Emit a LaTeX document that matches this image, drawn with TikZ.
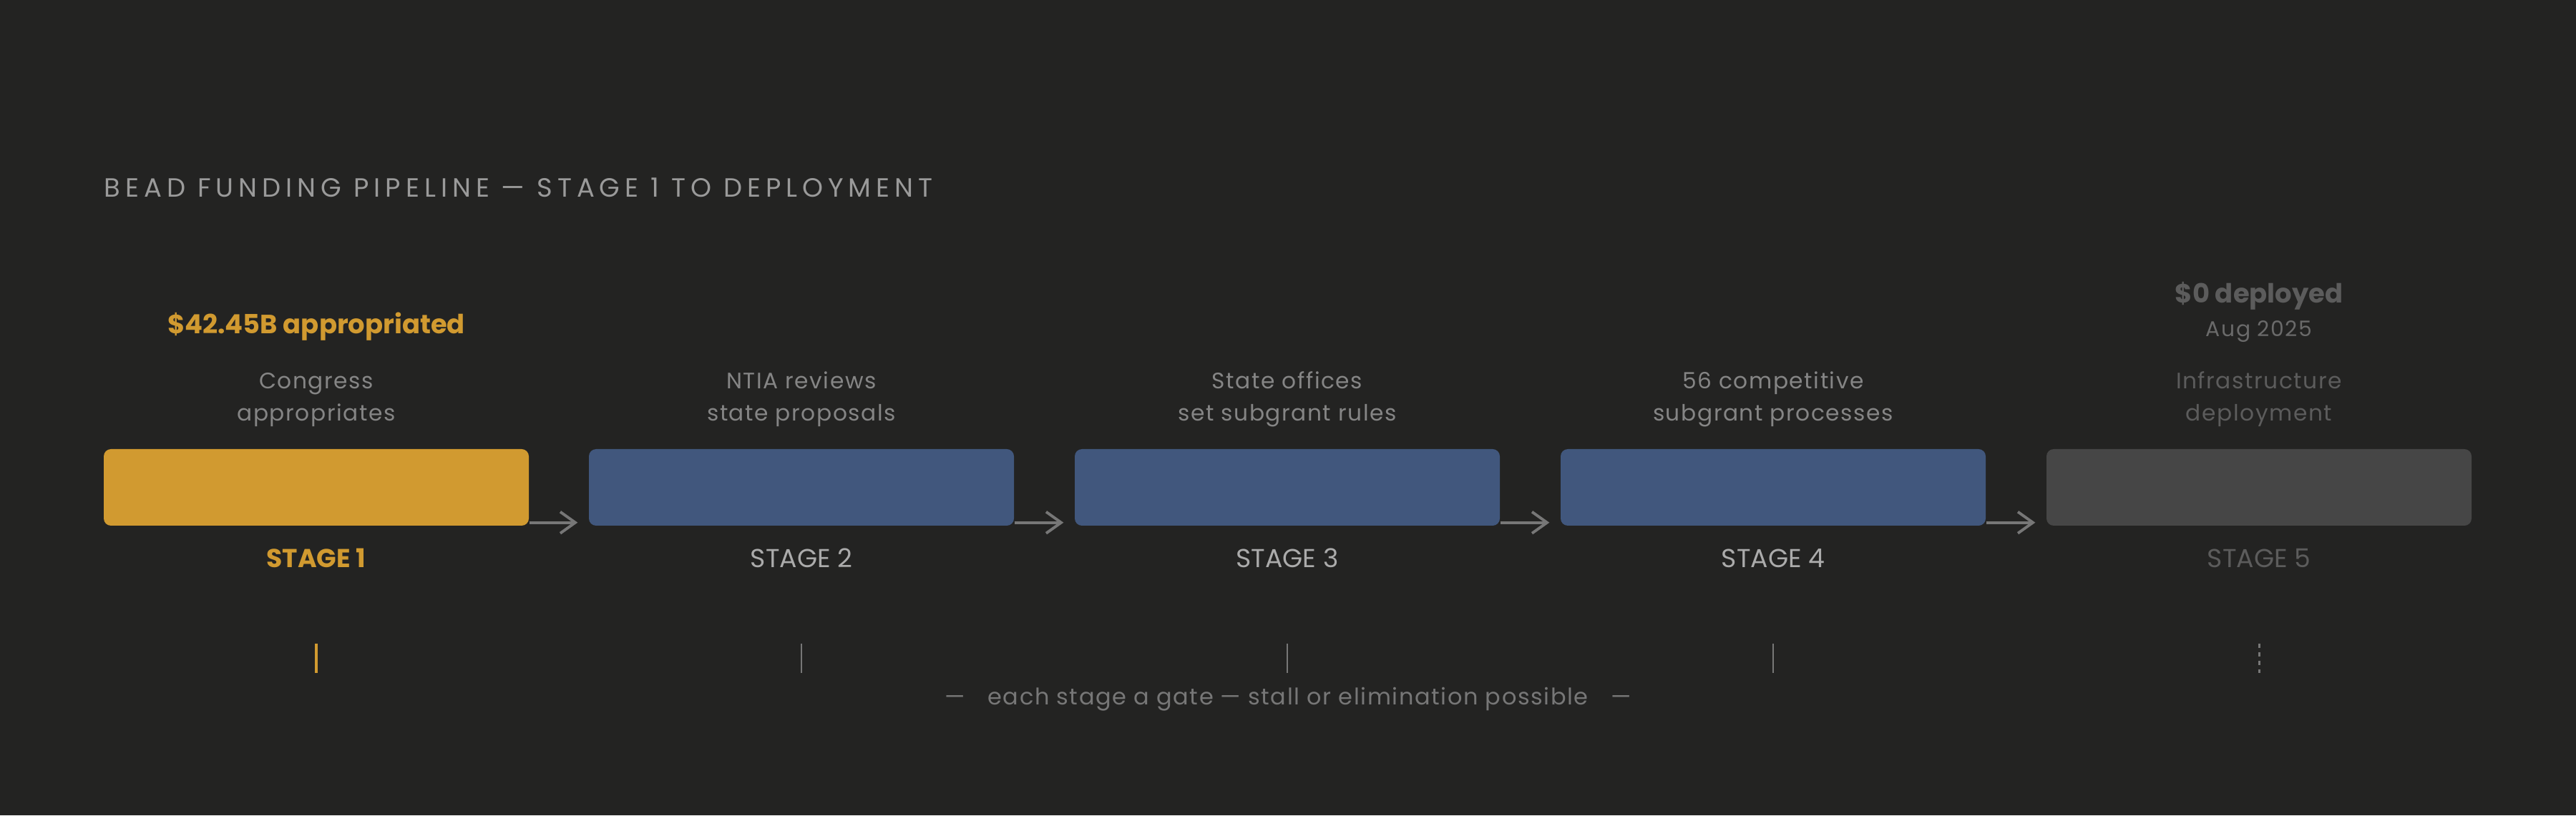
\documentclass[tikz,border=0pt]{standalone}
\usepackage{fontspec}
\setmainfont{Poppins}
\newfontfamily\titlefont[LetterSpace=19]{Poppins}
\newfontfamily\descfont[LetterSpace=5]{Poppins}
\newfontfamily\notefont[LetterSpace=5]{Poppins}
\usetikzlibrary{arrows.meta,calc,positioning}
\definecolor{bg}{HTML}{232322}
\definecolor{gold}{HTML}{D19A30}
\definecolor{slate}{HTML}{41577D}
\definecolor{ash}{HTML}{464646}
\definecolor{capgrey}{HTML}{9A9A9A}
\definecolor{descgrey}{HTML}{858585}
\definecolor{lblgrey}{HTML}{ABABAB}
\definecolor{dimgrey}{HTML}{5C5C5C}
\definecolor{linegrey}{HTML}{777777}

\begin{document}
\begin{tikzpicture}[>={Straight Barb[length=0.21cm,width=0.30cm]},inner sep=0pt,
	bar/.style={rectangle,rounded corners=0.1cm,minimum width=5.94cm,minimum height=1.07cm},
	desc/.style={anchor=base,align=center,text=descgrey,font=\fontsize{8.9}{12.8}\descfont},
	stagelbl/.style={anchor=base,text=lblgrey,font=\fontsize{10.3}{12}\selectfont},
	money/.style={anchor=base,font=\fontsize{10.5}{12}\selectfont\bfseries},
	gate/.style={linegrey,line width=0.6pt}]
	\fill[bg] (0,0) rectangle (36,11.4);

	\node[anchor=base west,text=capgrey,font=\fontsize{10.5}{12}\titlefont] (title) at (1.45,8.64) {BEAD FUNDING PIPELINE — STAGE 1 TO DEPLOYMENT};

	\node[bar,fill=gold] (b1) at (4.42,4.585) {};
	\node[bar,fill=slate] (b2) at (11.20,4.585) {};
	\node[bar,fill=slate] (b3) at (17.99,4.585) {};
	\node[bar,fill=slate] (b4) at (24.78,4.585) {};
	\node[bar,fill=ash] (b5) at (31.57,4.585) {};

	% what each stage does
	\node[desc] (d1) at ($(b1.north)+(0,0.39)$) {Congress\\appropriates};
	\node[desc] (d2) at ($(b2.north)+(0,0.39)$) {NTIA reviews\\state proposals};
	\node[desc] (d3) at ($(b3.north)+(0,0.39)$) {State offices\\set subgrant rules};
	\node[desc] (d4) at ($(b4.north)+(0,0.39)$) {56 competitive\\subgrant processes};
	\node[desc,text=dimgrey] (d5) at ($(b5.north)+(0,0.39)$) {Infrastructure\\deployment};

	\node[money,text=gold] (m1) at (4.42,6.73) {\$42.45B appropriated};
	\node[money,text=dimgrey] (m5) at (31.57,7.16) {\$0 deployed};
	\node[anchor=base,text=linegrey!85!bg,font=\fontsize{8.5}{10}\descfont] (date) at (31.57,6.69) {Aug 2025};

	\node[stagelbl,text=gold,font=\fontsize{10.3}{12}\selectfont\bfseries] (l1) at ($(b1.south)+(0,-0.58)$) {STAGE 1};
	\node[stagelbl] (l2) at ($(b2.south)+(0,-0.58)$) {STAGE 2};
	\node[stagelbl] (l3) at ($(b3.south)+(0,-0.58)$) {STAGE 3};
	\node[stagelbl] (l4) at ($(b4.south)+(0,-0.58)$) {STAGE 4};
	\node[stagelbl,text=dimgrey] (l5) at ($(b5.south)+(0,-0.58)$) {STAGE 5};

	\path[->,linegrey,line width=1.1pt]
		([yshift=0.05cm]b1.south east) edge ([xshift=-0.15cm,yshift=0.05cm]b2.south west)
		([yshift=0.05cm]b2.south east) edge ([xshift=-0.15cm,yshift=0.05cm]b3.south west)
		([yshift=0.05cm]b3.south east) edge ([xshift=-0.15cm,yshift=0.05cm]b4.south west)
		([yshift=0.05cm]b4.south east) edge ([xshift=-0.15cm,yshift=0.05cm]b5.south west);

	% gates
	\draw[gate,gold,line width=1.4pt] ($(b1.south)+(0,-1.64)$) -- ++(0,-0.41);
	\draw[gate] ($(b2.south)+(0,-1.64)$) -- ++(0,-0.41);
	\draw[gate] ($(b3.south)+(0,-1.64)$) -- ++(0,-0.41);
	\draw[gate] ($(b4.south)+(0,-1.64)$) -- ++(0,-0.41);
	\draw[gate,line width=0.85pt,dash pattern=on 1.7pt off 1.7pt] ($(b5.south)+(0,-1.64)$) -- ++(0,-0.41);

	\node[anchor=base,text=linegrey,font=\fontsize{9.1}{11}\notefont] (note) at (18.00,1.55) {—\quad each stage a gate — stall or elimination possible\quad —};
\end{tikzpicture}
\end{document}
